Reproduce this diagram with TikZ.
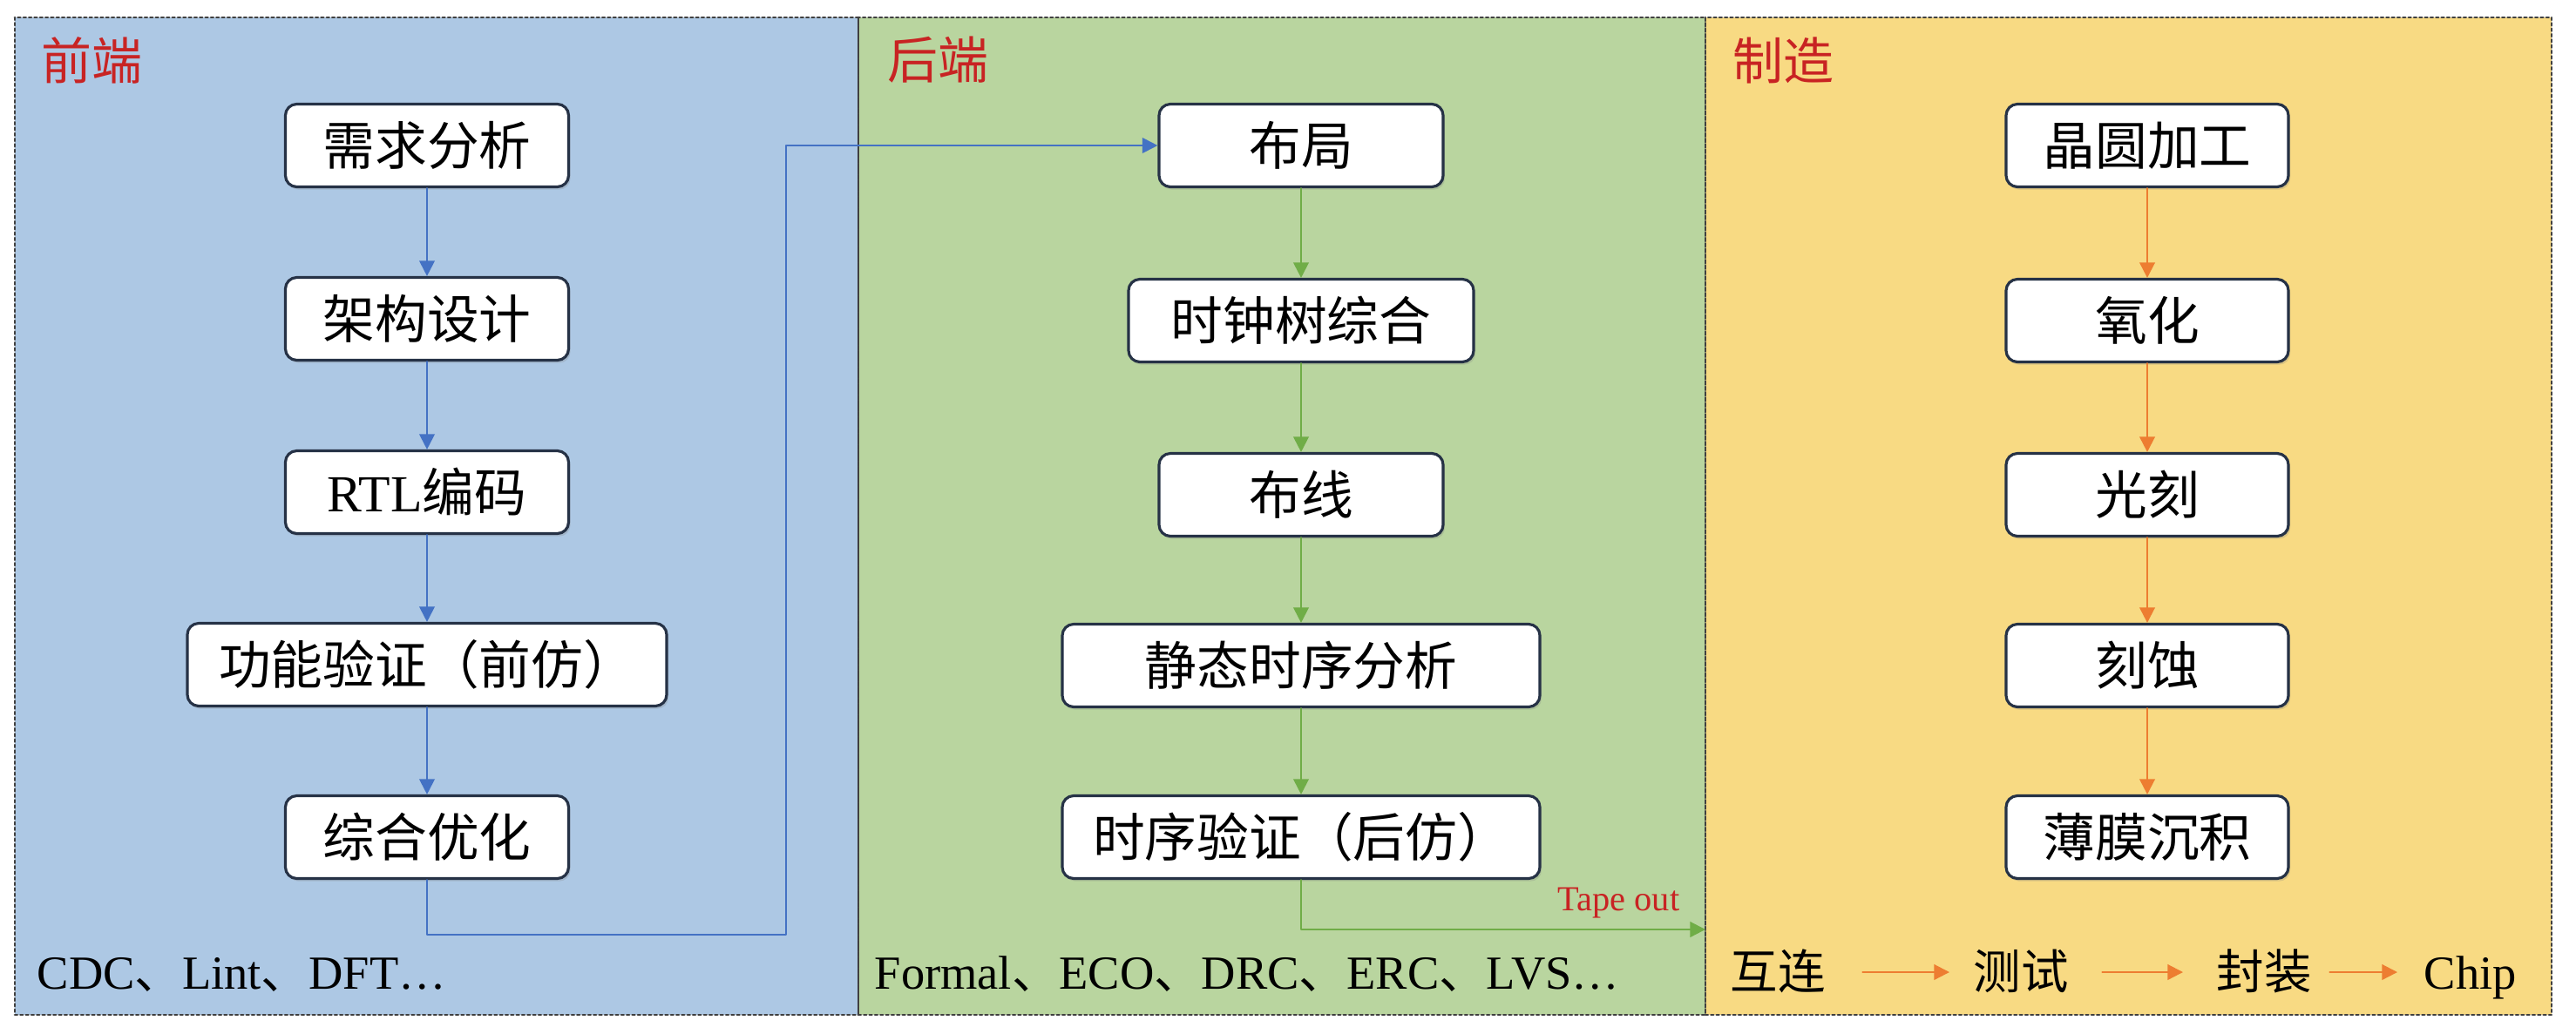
\documentclass[tikz,border=0pt]{standalone}
\usepackage{fontspec}
\setmainfont{Liberation Serif}
\newfontfamily\cjk{Noto Sans CJK SC}
\usetikzlibrary{positioning,calc,arrows.meta,shadows}

\definecolor{feblue}{RGB}{173,200,228}
\definecolor{begreen}{RGB}{185,213,159}
\definecolor{mfyellow}{RGB}{248,218,131}
\definecolor{boxline}{RGB}{38,50,70}
\definecolor{titlered}{RGB}{200,35,35}
\definecolor{arrblue}{RGB}{68,114,196}
\definecolor{arrgreen}{RGB}{112,173,71}
\definecolor{arrorange}{RGB}{237,125,49}

\begin{document}
\begin{tikzpicture}[line cap=round, line join=round, >={Triangle[length=5pt,width=5pt]},
	flow/.style={draw=boxline, line width=0.9pt, fill=white, rounded corners=0.13cm,
		minimum height=0.95cm, inner sep=0pt, text height=0.5cm, text depth=0.06cm,
		font=\cjk\fontsize{17}{20}\selectfont,
		drop shadow={opacity=0.25, shadow xshift=0.6pt, shadow yshift=-0.9pt}},
	panel/.style={draw=black!75, line width=0.8pt, densely dotted},
	stage/.style={anchor=west, inner sep=0pt, text=titlered, font=\cjk\fontsize{16.5}{20}\selectfont},
	note/.style={anchor=west, inner sep=0pt, text height=0.45cm, text depth=0.07cm, font=\fontsize{15.5}{18}\selectfont},
	bluearr/.style={->, draw=arrblue, line width=0.6pt},
	greenarr/.style={->, draw=arrgreen, line width=0.6pt},
	orangearr/.style={->, draw=arrorange, line width=0.6pt}]
		\useasboundingbox (0,0) rectangle (29.56,-11.86);
		% panels
		\fill [feblue] (0.17,-0.20) rectangle (9.85,-11.65);
		\fill [begreen] (9.85,-0.20) rectangle (19.57,-11.65);
		\fill [mfyellow] (19.57,-0.20) rectangle (29.28,-11.65);
		\draw [panel] (0.17,-0.20) rectangle (9.85,-11.65);
		\draw [panel] (9.85,-0.20) rectangle (19.57,-11.65);
		\draw [panel] (19.57,-0.20) rectangle (29.28,-11.65);
		% titles
		\node [stage] (qdtitle) at (0.47,-0.69) {前端};
		\node [stage] (hdtitle) at (10.18,-0.69) {后端};
		\node [stage] (zztitle) at (19.88,-0.69) {制造};
		% front end
		\node [flow, minimum width=3.25cm] (qf1) at (4.90,-1.67) {需求分析};
		\node [flow, minimum width=3.25cm] (qf2) at (4.90,-3.66) {架构设计};
		\node [flow, minimum width=3.25cm] (qf3) at (4.90,-5.65) {{\rmfamily RTL}编码};
		\node [flow, minimum width=5.50cm] (qf4) at (4.90,-7.63) {功能验证（前仿）};
		\node [flow, minimum width=3.25cm] (qf5) at (4.90,-9.61) {综合优化};
		% back end
		\node [flow, minimum width=3.26cm] (hd1) at (14.93,-1.67) {布局};
		\node [flow, minimum width=3.96cm] (hd2) at (14.93,-3.68) {时钟树综合};
		\node [flow, minimum width=3.26cm] (hd3) at (14.93,-5.68) {布线};
		\node [flow, minimum width=5.48cm] (hd4) at (14.93,-7.64) {静态时序分析};
		\node [flow, minimum width=5.48cm] (hd5) at (14.93,-9.61) {时序验证（后仿）};
		% fab
		\node [flow, minimum width=3.24cm] (zz1) at (24.64,-1.67) {晶圆加工};
		\node [flow, minimum width=3.24cm] (zz2) at (24.64,-3.68) {氧化};
		\node [flow, minimum width=3.24cm] (zz3) at (24.64,-5.68) {光刻};
		\node [flow, minimum width=3.24cm] (zz4) at (24.64,-7.64) {刻蚀};
		\node [flow, minimum width=3.24cm] (zz5) at (24.64,-9.61) {薄膜沉积};
		% arrows
		\foreach \a/\b in {qf1/qf2, qf2/qf3, qf3/qf4, qf4/qf5}
			\draw [bluearr] (\a) -- (\b);
		\foreach \a/\b in {hd1/hd2, hd2/hd3, hd3/hd4, hd4/hd5}
			\draw [greenarr] (\a) -- (\b);
		\foreach \a/\b in {zz1/zz2, zz2/zz3, zz3/zz4, zz4/zz5}
			\draw [orangearr] (\a) -- (\b);
		% front end -> back end
		\coordinate (qturn) at (9.02,-10.73);
		\draw [bluearr] (qf5.south) |- (qturn) |- (hd1.west);
		% tape out
		\coordinate (tapeend) at (19.57,-10.67);
		\draw [greenarr] (hd5.south) |- (tapeend);
		\node [anchor=base east, inner sep=0pt, text=titlered, font=\fontsize{11.5}{13}\selectfont] (tapeout) at (19.28,-10.45) {Tape out};
		% tools
		\node [note] (qtools) at (0.42,-11.16) {CDC{\cjk 、}Lint{\cjk 、}DFT…};
		\node [note] (htools) at (10.03,-11.16) {Formal{\cjk 、}ECO{\cjk 、}DRC{\cjk 、}ERC{\cjk 、}LVS…};
		\node [note] (hl) at (19.85,-11.16) {\cjk 互连};
		\node [note] (cs) at (22.64,-11.16) {\cjk 测试};
		\node [note] (fz) at (25.43,-11.16) {\cjk 封装};
		\node [note] (chip) at (27.81,-11.16) {Chip};
		\draw [orangearr, shorten <=0.42cm, shorten >=0.27cm] (hl) -- (cs);
		\draw [orangearr, shorten <=0.38cm, shorten >=0.38cm] (cs) -- (fz);
		\draw [orangearr, shorten <=0.20cm, shorten >=0.30cm] (fz) -- (chip);
	\end{tikzpicture}
\end{document}
